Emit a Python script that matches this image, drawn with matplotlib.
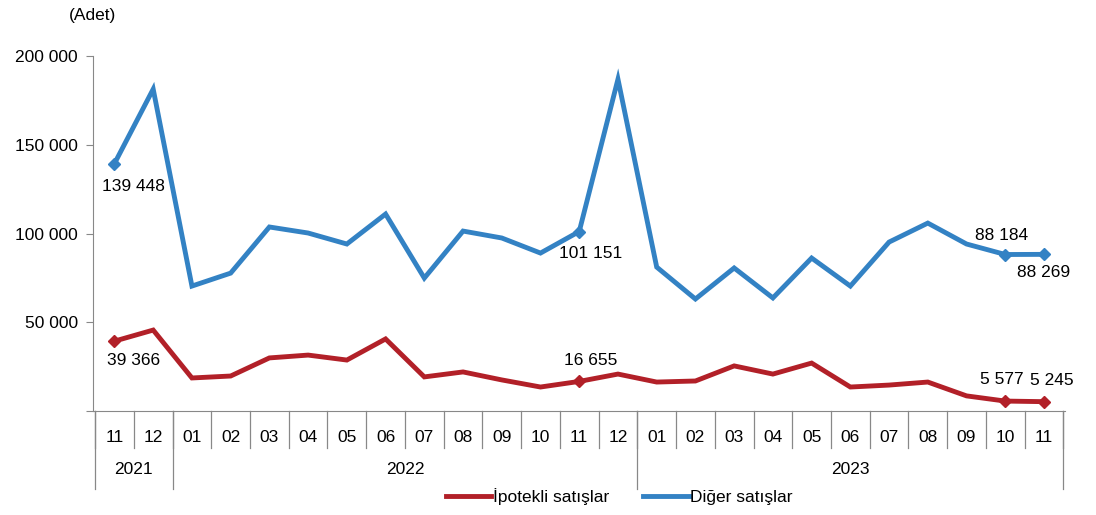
import matplotlib.pyplot as plt
import matplotlib.transforms as mtransforms

plt.rcParams['font.family'] = ['Liberation Sans', 'DejaVu Sans']

# data
months = ['11', '12', '01', '02', '03', '04', '05', '06', '07', '08', '09', '10',
          '11', '12', '01', '02', '03', '04', '05', '06', '07', '08', '09', '10', '11']
years = ['2021', '2022', '2023']
year_counts = [2, 12, 11]

ipotekli = [39366, 45600, 18600, 19700, 29900, 31500, 28700, 40600, 19200, 22000,
            17500, 13500, 16655, 20800, 16300, 16900, 25400, 20800, 27000, 13500,
            14600, 16300, 8500, 5577, 5245]
diger = [139448, 181400, 70400, 77700, 103700, 100300, 94100, 111000, 74900, 101400,
         97500, 89000, 101151, 187000, 81100, 63100, 80600, 63700, 86200, 70400,
         95200, 105900, 94100, 88184, 88269]

labeled = [0, 12, 23, 24]

red = '#B22028'
blue = '#3382C4'
fs = 12.5

def fmt(v):
    return '{:,}'.format(v).replace(',', ' ')

fig = plt.figure(figsize=(10.96, 5.15), dpi=100)
ax = fig.add_axes([0.085, 0.202, 0.887, 0.689])

x = list(range(len(months)))
ax.plot(x, ipotekli, color=red, lw=3.5, solid_joinstyle='miter', label='İpotekli satışlar')
ax.plot(x, diger, color=blue, lw=3.5, solid_joinstyle='miter', label='Diğer satışlar')
ax.plot([x[i] for i in labeled], [ipotekli[i] for i in labeled], 'D', color=red, ms=6.5)
ax.plot([x[i] for i in labeled], [diger[i] for i in labeled], 'D', color=blue, ms=6.5)

ax.set_xlim(-0.55, len(months) - 0.45)
ax.set_ylim(0, 200000)
ax.set_yticks([0, 50000, 100000, 150000, 200000])
ax.set_yticklabels(['', '50 000', '100 000', '150 000', '200 000'], fontsize=fs)
ax.tick_params(axis='y', direction='out', length=5, color='#888888', pad=6)
ax.set_xticks([])
for s in ['top', 'right']:
    ax.spines[s].set_visible(False)
ax.spines['left'].set_color('#888888')
ax.spines['bottom'].set_color('#888888')

# category axis: month labels, separators and years
trans = mtransforms.blended_transform_factory(ax.transData, ax.transAxes)
for i, m in enumerate(months):
    ax.text(i, -0.075, m, transform=trans, ha='center', va='center', fontsize=fs)
for i in range(len(months) + 1):
    ax.plot([i - 0.5, i - 0.5], [0, -0.105], transform=trans, color='#888888',
            lw=0.9, clip_on=False)
start = 0
for y, c in zip(years, year_counts):
    ax.text(start + c / 2 - 0.5, -0.165, y, transform=trans, ha='center',
            va='center', fontsize=fs)
    ax.plot([start - 0.5, start - 0.5], [0, -0.22], transform=trans,
            color='#888888', lw=0.9, clip_on=False)
    start += c
ax.plot([start - 0.5, start - 0.5], [0, -0.22], transform=trans,
        color='#888888', lw=0.9, clip_on=False)

# data labels
lab = dict(fontsize=fs, ha='center', va='center')
ax.text(0.5, diger[0] - 13000, fmt(diger[0]), **lab)
ax.text(0.5, ipotekli[0] - 11000, fmt(ipotekli[0]), **lab)
ax.text(12.3, diger[12] - 12500, fmt(diger[12]), **lab)
ax.text(12.3, ipotekli[12] + 12000, fmt(ipotekli[12]), **lab)
ax.text(22.9, diger[23] + 11000, fmt(diger[23]), **lab)
ax.text(24.0, diger[24] - 10500, fmt(diger[24]), **lab)
ax.text(22.9, ipotekli[23] + 12000, fmt(ipotekli[23]), **lab)
ax.text(24.2, ipotekli[24] + 12000, fmt(ipotekli[24]), **lab)

fig.text(0.063, 0.97, '(Adet)', fontsize=fs, ha='left', va='center')

fig.legend(loc='center', bbox_to_anchor=(0.565, 0.035), ncol=2, frameon=False,
           fontsize=fs, handlelength=2.6, handletextpad=0.1, columnspacing=2.0)

fig.savefig('out.png', dpi=100)
